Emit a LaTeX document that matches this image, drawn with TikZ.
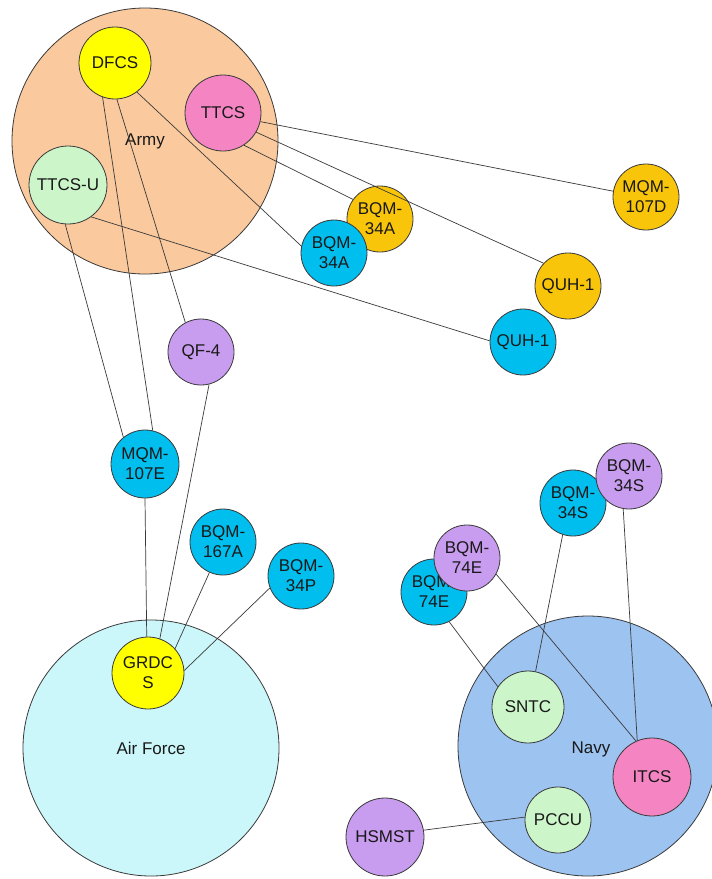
\documentclass[tikz,border=0pt]{standalone}
\usepackage{fontspec}
\setmainfont{Liberation Sans}
\definecolor{armyfill}{HTML}{FAC99D}
\definecolor{airfill}{HTML}{CCF7FA}
\definecolor{navyfill}{HTML}{9DC3F0}
\definecolor{yellowc}{HTML}{FFFF00}
\definecolor{pinkc}{HTML}{F585C2}
\definecolor{greenc}{HTML}{CCF5C9}
\definecolor{orangec}{HTML}{F9C50A}
\definecolor{bluec}{HTML}{00BEEE}
\definecolor{purplec}{HTML}{C89CEE}
\definecolor{linegray}{HTML}{3A3A3A}
\begin{document}
\begin{tikzpicture}[x=1pt,y=-1pt,
  labelfont/.style={font=\fontsize{17}{20}\selectfont, text=black!90},
  service/.style={circle, draw=linegray, line width=0.8pt, inner sep=0pt, labelfont},
  unit/.style={circle, draw=linegray, line width=0.8pt, inner sep=0pt, align=center, labelfont},
  link/.style={draw=linegray, line width=0.7pt}]
\useasboundingbox (0,0) rectangle (712,879);
\fill[white] (0,0) rectangle (712,879);

% services
\node[service, fill=armyfill, minimum size=266pt] (army) at (145,141) {Army};
\node[service, fill=airfill, minimum size=256pt] (airforce) at (151,748) {Air Force};
\node[service, fill=navyfill, minimum size=260pt] (navy) at (588,746) {};
\node[labelfont] (navylabel) at (591,749) {Navy};

% Army units
\node[unit, fill=yellowc, minimum size=72pt] (dfcs) at (115,63) {DFCS};
\node[unit, fill=pinkc, minimum size=76pt] (ttcs) at (223,113) {TTCS};
\node[unit, fill=greenc, minimum size=78pt] (ttcsu) at (68,185) {TTCS-U};

% Army targets
\node[unit, fill=orangec, minimum size=66pt] (bqmaor) at (380,219) {BQM-\\34A};
\node[unit, fill=bluec, minimum size=66pt] (bqmabl) at (334,253) {BQM-\\34A};
\node[unit, fill=orangec, minimum size=66pt] (mqmd) at (646,197) {MQM-\\107D};
\node[unit, fill=orangec, minimum size=66pt] (quhor) at (568,286) {QUH-1};
\node[unit, fill=bluec, minimum size=66pt] (quhbl) at (523,342) {QUH-1};
\node[unit, fill=purplec, minimum size=66pt] (qf) at (201,352) {QF-4};

% Air Force
\node[unit, fill=bluec, minimum size=68pt] (mqme) at (145,464) {MQM-\\107E};
\node[unit, fill=bluec, minimum size=66pt] (bqmca) at (223,542) {BQM-\\167A};
\node[unit, fill=bluec, minimum size=66pt] (bqmp) at (301,576) {BQM-\\34P};
\node[unit, fill=yellowc, minimum size=72pt] (grdcs) at (148,673) {GRDC\\S};

% Navy targets
\node[unit, fill=bluec, minimum size=66pt] (bqmsbl) at (573,503) {BQM-\\34S};
\node[unit, fill=purplec, minimum size=66pt] (bqmspu) at (629,476) {BQM-\\34S};
\node[unit, fill=bluec, minimum size=66pt] (bqmebl) at (434,592) {BQM-\\74E};
\node[unit, fill=purplec, minimum size=66pt] (bqmepu) at (467,558) {BQM-\\74E};

% Navy units
\node[unit, fill=greenc, minimum size=72pt] (sntc) at (528,707) {SNTC};
\node[unit, fill=pinkc, minimum size=78pt] (itcs) at (652,777) {ITCS};
\node[unit, fill=greenc, minimum size=66pt] (pccu) at (558,820) {PCCU};
\node[unit, fill=purplec, minimum size=78pt] (hsmst) at (385,837) {HSMST};

% links
\draw[link] (dfcs.250) -- (mqme.77);
\draw[link] (dfcs.273) -- (qf.118);
\draw[link] (dfcs.-53) -- (bqmabl.168);
\draw[link] (ttcsu.-94) -- (mqme.129);
\draw[link] (ttcsu.-54) -- (quhbl.178);
\draw[link] (ttcs.-13) -- (mqmd.170);
\draw[link] (ttcs.-30) -- (quhor.137);
\draw[link] (ttcs.-57) -- (bqmaor.144);
\draw[link] (mqme.-90) -- (grdcs.92);
\draw[link] (qf.-76) -- (grdcs.71);
\draw[link] (bqmca.-114) -- (grdcs.42);
\draw[link] (bqmp.-159) -- (grdcs.4);
\draw[link] (bqmebl.-63) -- (sntc.146);
\draw[link] (bqmsbl.-108) -- (sntc.78);
\draw[link] (bqmepu.-29) -- (itcs.114);
\draw[link] (bqmspu.-100) -- (itcs.112);
\draw[link] (hsmst.10) -- (pccu.175);
\end{tikzpicture}
\end{document}
